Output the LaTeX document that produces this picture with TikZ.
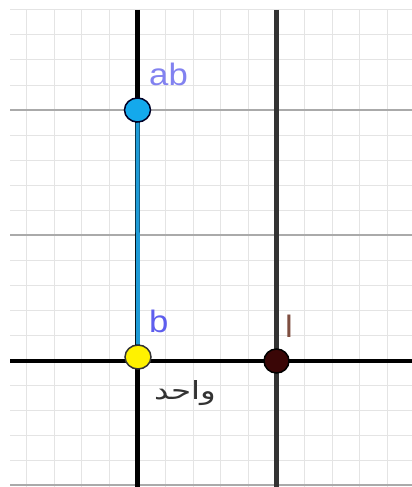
\documentclass[tikz,border=0pt]{standalone}
\usepackage{fontspec}
\usetikzlibrary{shapes.geometric}
\TeXXeTstate=1
\newfontfamily\labfont[FakeStretch=1.12]{Liberation Sans}
\newfontfamily\arabicfont[Script=Arabic,FakeStretch=1.3]{DejaVu Sans}
\definecolor{minorgrid}{HTML}{E4E4E4}
\definecolor{majorgrid}{HTML}{AAAAAA}
\definecolor{segblue}{HTML}{1E9BD6}
\definecolor{ptblue}{HTML}{14A9EC}
\definecolor{ptyellow}{HTML}{FFF200}
\definecolor{ptbrown}{HTML}{3A0606}
\definecolor{labab}{HTML}{8282F0}
\definecolor{labb}{HTML}{5E5EEE}
\definecolor{labl}{HTML}{7E4E40}
\definecolor{axisgray}{HTML}{333333}
\tikzset{
  minorline/.style={draw=minorgrid, line width=1pt},
  majorline/.style={draw=majorgrid, line width=1.2pt},
  axisline/.style={draw=black, line width=4.5pt},
  pointstyle/.style={ellipse, minimum width=26pt, minimum height=24pt, inner sep=0pt, line width=1.5pt},
  labelstyle/.style={inner sep=0pt, anchor=base west, font=\labfont\fontsize{31}{31}\selectfont}
}
\begin{document}
\begin{tikzpicture}[x=1pt,y=-1pt]
\useasboundingbox (0,0) rectangle (412,487);
\fill[white] (0,0) rectangle (412,487);
% minor grid
\foreach \k in {-4,...,9} {
  \draw[minorline] ({137.5+27.8*\k},10) -- ({137.5+27.8*\k},487);
}
\foreach \k in {0,...,19} {
  \draw[minorline] (10,{10+25*\k}) -- (412,{10+25*\k});
}
% major grid
\foreach \yy in {110,235,485} {
  \draw[majorline] (10,\yy) -- (412,\yy);
}
% axes
\coordinate (xl) at (10,361);
\coordinate (xr) at (412,361);
\coordinate (yt) at (137.5,10);
\coordinate (yb) at (137.5,487);
\coordinate (lt) at (276.5,10);
\coordinate (lb) at (276.5,487);
\draw[axisline] (xl) -- (xr);
\draw[axisline] (yt) -- (yb);
\draw[axisline, draw=axisgray, line width=4.3pt] (lt) -- (lb);
% points
\node[pointstyle, draw=black!85!blue, fill=ptblue] (ab) at (137.5,110) {};
\node[pointstyle, draw=black!80, fill=ptyellow] (b) at (138,357) {};
\node[pointstyle, draw=black, fill=ptbrown, minimum width=25pt, minimum height=24pt] (l) at (276.5,361) {};
% segment
\draw[segblue, line width=4pt] (ab) -- (b);
% labels
\node[labelstyle, text=labab] (labelab) at (149,85) {ab};
\node[labelstyle, text=labb] (labelb) at (149,332) {b};
\node[labelstyle, text=labl] (labell) at (285,337) {l};
\node[inner sep=0pt, text=axisgray, font=\arabicfont\fontsize{25}{25}\selectfont] (wahid) at (185,393) {\beginR واحد\endR};
\end{tikzpicture}
\end{document}
